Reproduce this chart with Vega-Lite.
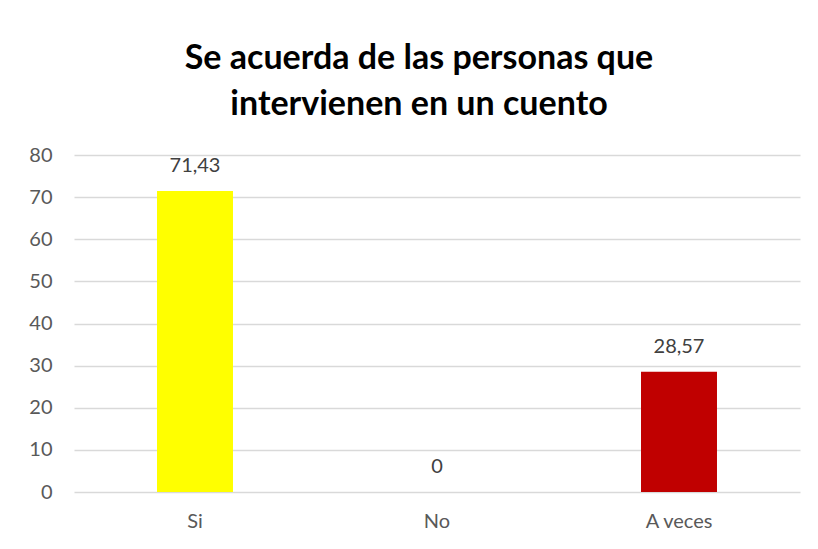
{
  "$schema": "https://vega.github.io/schema/vega-lite/v6.json",
  "width": 726,
  "height": 337,
  "autosize": {"type": "none"},
  "padding": {"left": 74, "top": 155, "right": 18, "bottom": 57},
  "background": "white",
  "title": {
    "text": ["Se acuerda de las personas que", "intervienen en un cuento"],
    "font": "Lato",
    "fontSize": 34,
    "fontWeight": "bold",
    "color": "#000000",
    "lineHeight": 46,
    "anchor": "middle",
    "frame": "group",
    "dx": -18,
    "offset": 23
  },
  "data": {
    "values": [
      {"categoria": "Si", "valor": 71.43, "etiqueta": "71,43"},
      {"categoria": "No", "valor": 0, "etiqueta": "0"},
      {"categoria": "A veces", "valor": 28.57, "etiqueta": "28,57"}
    ]
  },
  "encoding": {
    "x": {
      "field": "categoria",
      "type": "nominal",
      "sort": ["Si", "No", "A veces"],
      "scale": {"paddingInner": 0.686, "paddingOuter": 0.343},
      "axis": {
        "title": null,
        "labelAngle": 0,
        "ticks": false,
        "domain": false,
        "labelFont": "Lato",
        "labelFontSize": 20,
        "labelColor": "#595959",
        "labelPadding": 19
      }
    },
    "y": {
      "field": "valor",
      "type": "quantitative",
      "scale": {"domain": [0, 80]},
      "axis": {
        "title": null,
        "values": [0, 10, 20, 30, 40, 50, 60, 70, 80],
        "ticks": false,
        "domain": false,
        "labelFont": "Lato",
        "labelFontSize": 20,
        "labelColor": "#595959",
        "labelPadding": 22,
        "gridColor": "#d9d9d9",
        "gridWidth": 1.3
      }
    }
  },
  "layer": [
    {
      "mark": {"type": "bar"},
      "encoding": {
        "color": {
          "field": "categoria",
          "type": "nominal",
          "scale": {"domain": ["Si", "No", "A veces"], "range": ["#ffff00", "#4472c4", "#c00000"]},
          "legend": null
        }
      }
    },
    {
      "mark": {"type": "text", "baseline": "middle", "dy": -25, "font": "Lato", "fontSize": 20, "color": "#404040"},
      "encoding": {"text": {"field": "etiqueta"}}
    }
  ],
  "config": {"view": {"stroke": null}}
}
